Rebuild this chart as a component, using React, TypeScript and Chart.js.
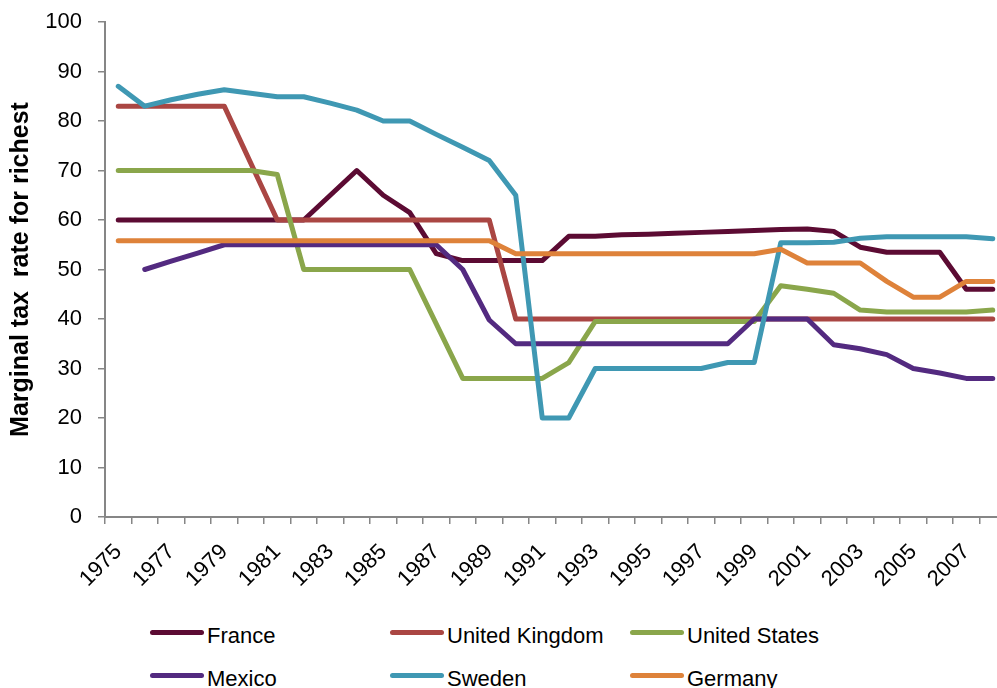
import React, { useEffect, useRef } from 'react';
import { Chart, registerables } from 'chart.js';

Chart.register(...registerables);

const years = [
  '1975', '1976', '1977', '1978', '1979', '1980', '1981', '1982', '1983', '1984',
  '1985', '1986', '1987', '1988', '1989', '1990', '1991', '1992', '1993', '1994',
  '1995', '1996', '1997', '1998', '1999', '2000', '2001', '2002', '2003', '2004',
  '2005', '2006', '2007', '2008',
];

const france = [
  60, 60, 60, 60, 60, 60, 60, 60, 65, 70,
  65, 61.5, 53.2, 51.8, 51.8, 51.8, 51.8, 56.7, 56.7, 57,
  57.1, 57.3, 57.5, 57.7, 57.9, 58.1, 58.2, 57.7, 54.5, 53.5,
  53.5, 53.5, 46, 46,
];

const unitedKingdom = [
  83, 83, 83, 83, 83, 71.5, 60, 60, 60, 60,
  60, 60, 60, 60, 60, 40, 40, 40, 40, 40,
  40, 40, 40, 40, 40, 40, 40, 40, 40, 40,
  40, 40, 40, 40,
];

const unitedStates = [
  70, 70, 70, 70, 70, 70, 69.2, 50, 50, 50,
  50, 50, 39, 28, 28, 28, 28, 31.2, 39.5, 39.5,
  39.5, 39.5, 39.5, 39.5, 39.5, 46.7, 46, 45.2, 41.8, 41.4,
  41.4, 41.4, 41.4, 41.8,
];

const mexico = [
  null, 50, 51.7, 53.3, 55, 55, 55, 55, 55, 55,
  55, 55, 55, 50, 39.8, 35, 35, 35, 35, 35,
  35, 35, 35, 35, 40, 40, 40, 34.8, 34, 32.8,
  30, 29.1, 28, 28,
];

const sweden = [
  87, 83, 84.3, 85.4, 86.3, 85.6, 84.9, 84.9, 83.6, 82.2,
  80, 80, 77.3, 74.7, 72, 65, 20, 20, 30, 30,
  30, 30, 30, 31.2, 31.2, 55.4, 55.4, 55.5, 56.3, 56.6,
  56.6, 56.6, 56.6, 56.2,
];

const germany = [
  55.8, 55.8, 55.8, 55.8, 55.8, 55.8, 55.8, 55.8, 55.8, 55.8,
  55.8, 55.8, 55.8, 55.8, 55.8, 53.2, 53.2, 53.2, 53.2, 53.2,
  53.2, 53.2, 53.2, 53.2, 53.2, 54.1, 51.3, 51.3, 51.3, 47.6,
  44.4, 44.4, 47.6, 47.6,
];

const seriesNames = ['France', 'United Kingdom', 'United States', 'Mexico', 'Sweden', 'Germany'];
const seriesColors = ['#5c0b33', '#aa4643', '#8aa64b', '#532a80', '#3f98b3', '#de823a'];

const yTitle = 'Marginal tax  rate for richest';
const FONT = '"Liberation Sans", Arial, Helvetica, sans-serif';
const AXIS_GRAY = '#868686';

export default function App() {
  const ref = useRef<HTMLCanvasElement | null>(null);

  useEffect(() => {
    const canvas = ref.current;
    if (!canvas) return;
    const seriesData = [france, unitedKingdom, unitedStates, mexico, sweden, germany];
    const chart = new Chart(canvas, {
      type: 'line',
      data: {
        labels: years,
        datasets: seriesNames.map((name, i) => ({
          label: name,
          data: seriesData[i] as any,
          borderColor: seriesColors[i],
          backgroundColor: seriesColors[i],
          borderWidth: 5,
          pointRadius: 0,
          pointHoverRadius: 0,
          tension: 0,
          fill: false,
          borderCapStyle: 'round',
          borderJoinStyle: 'round',
          spanGaps: false,
          order: seriesNames.length - i,
        })),
      },
      options: {
        animation: false,
        responsive: false,
        devicePixelRatio: 1,
        layout: { padding: { top: 22, left: 0, right: 0, bottom: 0 } },
        plugins: {
          legend: { display: false },
          tooltip: { enabled: false },
        },
        scales: {
          x: {
            type: 'category',
            offset: true,
            grid: {
              offset: true,
              drawOnChartArea: false,
              drawTicks: true,
              tickLength: 7,
              color: AXIS_GRAY,
              lineWidth: 1.5,
            },
            border: { color: AXIS_GRAY, width: 2 },
            ticks: {
              autoSkip: false,
              maxRotation: 45,
              minRotation: 45,
              padding: 15,
              color: '#000',
              font: { family: FONT, size: 22 },
              callback: (_v: any, i: number) => (Number(years[i]) % 2 === 1 ? years[i] : ''),
            },
            afterFit: (s: any) => {
              s.height = 83;
              s.paddingLeft = 0;
              s.paddingRight = 0;
            },
          },
          y: {
            min: 0,
            max: 100,
            ticks: {
              stepSize: 10,
              padding: 16,
              color: '#000',
              font: { family: FONT, size: 22 },
            },
            grid: {
              drawOnChartArea: false,
              drawTicks: true,
              tickLength: 7,
              color: AXIS_GRAY,
              lineWidth: 1.5,
            },
            border: { color: AXIS_GRAY, width: 2 },
            title: {
              display: true,
              text: yTitle,
              color: '#000',
              font: { family: FONT, size: 25, weight: 'bold' },
              padding: { top: 6, bottom: 0 },
            },
            afterFit: (s: any) => {
              s.width = 105;
              s.paddingTop = 0;
              s.paddingBottom = 0;
            },
          },
        },
      } as any,
    });
    return () => chart.destroy();
  }, []);

  return (
    <div
      style={{
        position: 'absolute',
        left: 0,
        top: 0,
        width: 997,
        height: 688,
        overflow: 'hidden',
        background: '#fff',
      }}
    >
      <canvas ref={ref} width={1006} height={600} style={{ display: 'block' }} />
      <div
        style={{
          position: 'absolute',
          left: 150,
          top: 614,
          display: 'grid',
          gridTemplateColumns: '240px 240px 240px',
          gridAutoRows: '43px',
          fontFamily: FONT,
          fontSize: 22,
          color: '#000',
        }}
      >
        {seriesNames.map((name, i) => (
          <div key={name} style={{ display: 'flex', alignItems: 'center', whiteSpace: 'nowrap' }}>
            <span
              style={{
                display: 'inline-block',
                width: 54,
                height: 5,
                borderRadius: 3,
                background: seriesColors[i],
                marginRight: 3,
                position: 'relative',
                top: -3,
              }}
            />
            <span>{name}</span>
          </div>
        ))}
      </div>
    </div>
  );
}
